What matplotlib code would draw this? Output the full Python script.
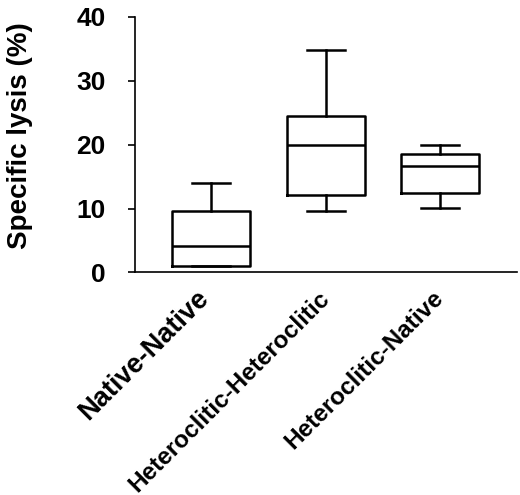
import matplotlib
matplotlib.use("Agg")
import matplotlib.pyplot as plt
import matplotlib.transforms as mtransforms

plt.rcParams['font.family'] = ['Liberation Sans', 'DejaVu Sans']

# box statistics (% specific lysis)
groups = ['Native-Native', 'Heteroclitic-Heteroclitic', 'Heteroclitic-Native']
whisker_low = [1.0, 9.6, 10.1]
q1 = [1.05, 12.1, 12.5]
median = [4.15, 19.95, 16.7]
q3 = [9.6, 24.5, 18.5]
whisker_high = [14.0, 34.8, 19.9]
yticks = [0, 10, 20, 30, 40]

stats = []
for i, name in enumerate(groups):
    stats.append({'label': name, 'whislo': whisker_low[i], 'q1': q1[i],
                  'med': median[i], 'q3': q3[i], 'whishi': whisker_high[i]})

fig = plt.figure(figsize=(5.2, 4.95), dpi=100)
ax = fig.add_axes([0.2596, 0.4495, 0.7346, 0.5162])

lw = 1.8
ax.bxp(stats, positions=[1, 2, 3], widths=0.68, capwidths=0.33, showfliers=False,
       boxprops=dict(color='black', linewidth=lw),
       medianprops=dict(color='black', linewidth=lw),
       whiskerprops=dict(color='black', linewidth=lw),
       capprops=dict(color='black', linewidth=lw))

ax.set_xlim(0.335, 3.67)
ax.set_ylim(0, 40)
ax.set_yticks(yticks)
ax.set_yticklabels([str(t) for t in yticks], fontsize=19, fontweight='bold')
ax.tick_params(axis='y', length=5, width=1.2, pad=16)
ax.tick_params(axis='x', length=0, pad=16)

ax.spines['top'].set_visible(False)
ax.spines['right'].set_visible(False)
ax.spines['left'].set_linewidth(1.2)
ax.spines['bottom'].set_linewidth(1.2)

ax.set_xticks([1, 2, 3])
ax.set_xticklabels(groups, rotation=45, ha='right', va='center', rotation_mode='anchor')
labels = ax.get_xticklabels()
labels[0].set_fontsize(19.5)
labels[0].set_fontweight('bold')
# nudge the big first label a little to the left, like the original
shift = mtransforms.ScaledTranslation(-6 / 100, 0, fig.dpi_scale_trans)
labels[0].set_transform(labels[0].get_transform() + shift)
for lab in labels[1:]:
    lab.set_fontsize(17.5)
    lab.set_fontweight('bold')

ax.set_ylabel('Specific lysis (%)', fontsize=20, fontweight='bold')
ax.yaxis.set_label_coords(-0.267, 0.536)

fig.savefig('out.png', dpi=100)
